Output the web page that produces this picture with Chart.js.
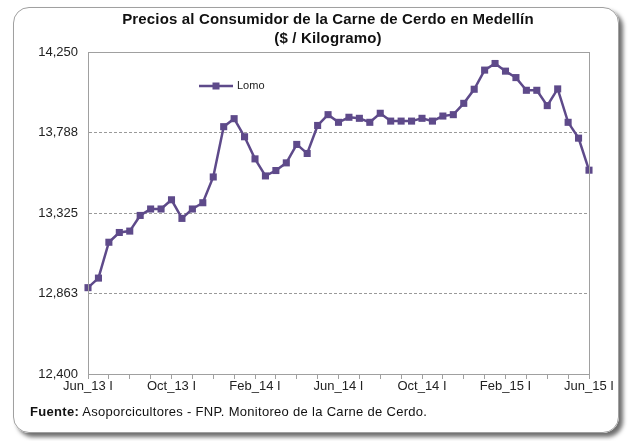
<!DOCTYPE html>
<html>
<head>
<meta charset="utf-8">
<script src="https://cdn.jsdelivr.net/npm/chart.js@4"></script>
<style>
  body { margin: 0; background: #fff; font-family: "Liberation Sans", Arial, sans-serif; }
  #frame {
    position: absolute; left: 13px; top: 7px; width: 604px; height: 424px;
    border: 1px solid #a0a0a0; border-radius: 16px;
    box-shadow: 4px 4px 4px #6e6e6e;
  }
  #wrap { position: absolute; left: 0; top: 0; width: 630px; height: 441px; }
  #title {
    position: absolute; left: 68px; width: 520px; top: 9px;
    text-align: center; font-weight: bold; font-size: 15px; line-height: 19px;
    letter-spacing: 0.15px; color: #111;
  }
  #source { position: absolute; left: 30px; top: 404px; font-size: 13px; letter-spacing: 0.3px; color: #111; }
</style>
</head>
<body>
<div id="frame"></div>
<div id="wrap"><canvas id="chart" width="630" height="441"></canvas></div>
<div id="title">Precios al Consumidor de la Carne de Cerdo en Medellín<br>($ / Kilogramo)</div>
<div id="source"><b>Fuente:</b> Asoporcicultores - FNP. Monitoreo de la Carne de Cerdo.</div>
<script>
// semi-monthly periods, Jun_13 I .. Jun_15 I
const months = ['Jun', 'Jul', 'Aug', 'Sep', 'Oct', 'Nov', 'Dec', 'Jan', 'Feb', 'Mar', 'Apr', 'May'];
const labels = [];
for (let i = 0; i < 49; i++) {
  const m = Math.floor(i / 2);
  const name = months[m % 12];
  const yr = 13 + Math.floor((m + 5) / 12);
  labels.push(name + '_' + yr + (i % 2 === 0 ? ' I' : ' II'));
}

const lomo = [
  12896, 12951, 13157, 13213, 13221, 13311, 13348, 13348, 13401, 13294,
  13348, 13384, 13532, 13821, 13867, 13763, 13636, 13538, 13569, 13613,
  13719, 13667, 13828, 13890, 13846, 13875, 13869, 13846, 13898, 13853,
  13853, 13853, 13869, 13853, 13882, 13890, 13955, 14036, 14146, 14184,
  14140, 14103, 14030, 14030, 13942, 14038, 13846, 13755, 13571
];

const yTicks = [12400, 12862.5, 13325, 13787.5, 14250];
const lineColor = '#5E4A8A';

const plotFrame = {
  id: 'plotFrame',
  afterDatasetsDraw(chart) {
    const { ctx, chartArea: a } = chart;
    ctx.save();
    ctx.strokeStyle = '#a0a0a0';
    ctx.lineWidth = 1;
    ctx.strokeRect(a.left + 0.5, a.top + 0.5, a.right - a.left, a.bottom - a.top);
    ctx.restore();
  },
  afterDraw(chart) {
    // legend drawn inside the plot
    const { ctx, chartArea: a } = chart;
    const x = a.left + 111, y = a.top + 34;
    ctx.save();
    ctx.strokeStyle = lineColor;
    ctx.lineWidth = 2.5;
    ctx.beginPath();
    ctx.moveTo(x, y);
    ctx.lineTo(x + 34, y);
    ctx.stroke();
    ctx.fillStyle = lineColor;
    ctx.fillRect(x + 17 - 3.5, y - 3.5, 7, 7);
    ctx.fillStyle = '#222';
    ctx.font = '11px "Liberation Sans", Arial';
    ctx.textBaseline = 'middle';
    ctx.fillText(chart.data.datasets[0].label, x + 38, y);
    ctx.restore();
  }
};

new Chart(document.getElementById('chart'), {
  type: 'line',
  data: {
    labels: labels,
    datasets: [{
      label: 'Lomo',
      data: lomo,
      borderColor: lineColor,
      backgroundColor: lineColor,
      borderWidth: 2.5,
      tension: 0,
      pointStyle: 'rect',
      pointRadius: 5,
      pointBorderWidth: 0
    }]
  },
  options: {
    responsive: false,
    animation: false,
    layout: { padding: { top: 52, left: 0, right: 41, bottom: 37 } },
    plugins: { legend: { display: false }, tooltip: { enabled: false } },
    scales: {
      x: {
        offset: false,
        afterFit(s) { s.height = 30; },
        grid: {
          drawOnChartArea: false,
          tickLength: 5,
          tickColor: c => (c.index % 2 === 0 ? '#a0a0a0' : 'rgba(0,0,0,0)')
        },
        border: { color: '#a0a0a0' },
        ticks: {
          autoSkip: false,
          maxRotation: 0,
          padding: 0,
          color: '#222',
          font: { family: '"Liberation Sans", Arial', size: 13 },
          callback: (v, i) => (i % 8 === 0 ? labels[i] : '')
        }
      },
      y: {
        min: 12400,
        max: 14250,
        afterFit(s) { s.width = 88; },
        afterBuildTicks(s) { s.ticks = yTicks.map(v => ({ value: v })); },
        grid: {
          drawTicks: false,
          color: c => (c.tick && (c.tick.value === 12400 || c.tick.value === 14250) ? 'rgba(0,0,0,0)' : '#9a9a9a')
        },
        border: { color: '#a0a0a0', dash: [3, 2] },
        ticks: {
          padding: 10,
          color: '#222',
          font: { family: '"Liberation Sans", Arial', size: 13 },
          callback: v => Math.round(v).toLocaleString('en-US')
        }
      }
    }
  },
  plugins: [plotFrame]
});
</script>
</body>
</html>
